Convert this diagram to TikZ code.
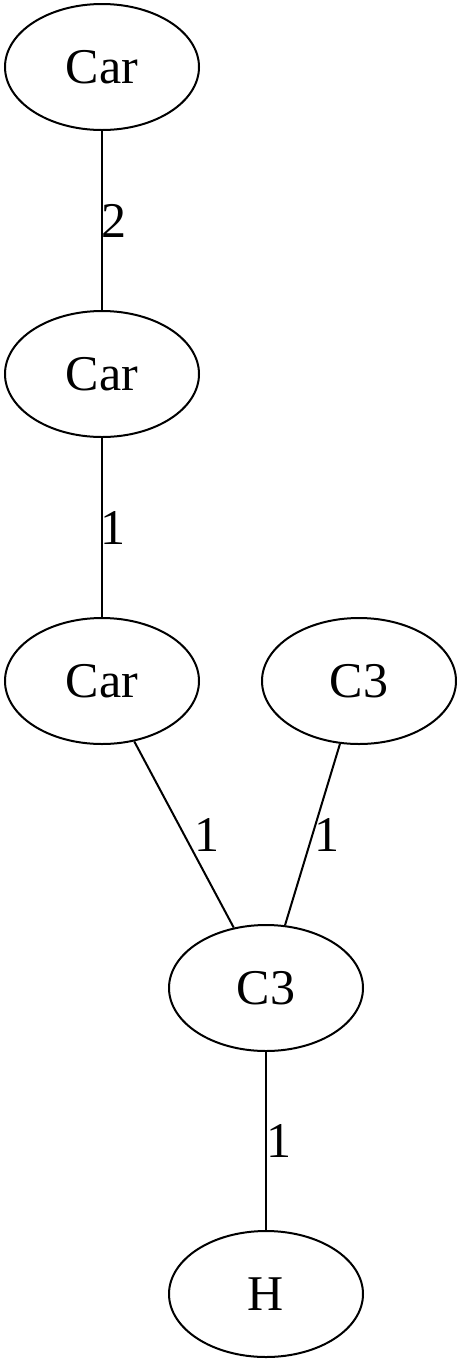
\documentclass[tikz,border=0pt]{standalone}
\usepackage{fontspec}
\setmainfont{Liberation Serif}
\usetikzlibrary{shapes.geometric}
\begin{document}
\begin{tikzpicture}[x=1pt,y=-1pt,
  nd/.style={draw,ellipse,line width=2pt,minimum width=194pt,minimum height=126pt,inner sep=0pt,font=\fontsize{50}{60}\selectfont},
  lbl/.style={inner sep=0pt,font=\fontsize{50}{60}\selectfont},
  ed/.style={line width=2pt}]
\useasboundingbox (0,0) rectangle (457,1361);
\node[nd] (car1) at (102,67) {Car};
\node[nd] (car2) at (102,374) {Car};
\node[nd] (car3) at (102,681) {Car};
\node[nd] (c3r) at (359,681) {C3};
\node[nd] (c3b) at (266,988) {C3};
\node[nd] (h) at (266,1294) {H};
\draw[ed] (car1) -- (car2);
\draw[ed] (car2) -- (car3);
\draw[ed] (car3) -- (c3b);
\draw[ed] (c3r) -- (c3b);
\draw[ed] (c3b) -- (h);
\node[lbl] (l1) at (114,221) {2};
\node[lbl] (l2) at (113,528) {1};
\node[lbl] (l3) at (207,835) {1};
\node[lbl] (l4) at (327,835) {1};
\node[lbl] (l5) at (279,1141) {1};
\end{tikzpicture}
\end{document}
